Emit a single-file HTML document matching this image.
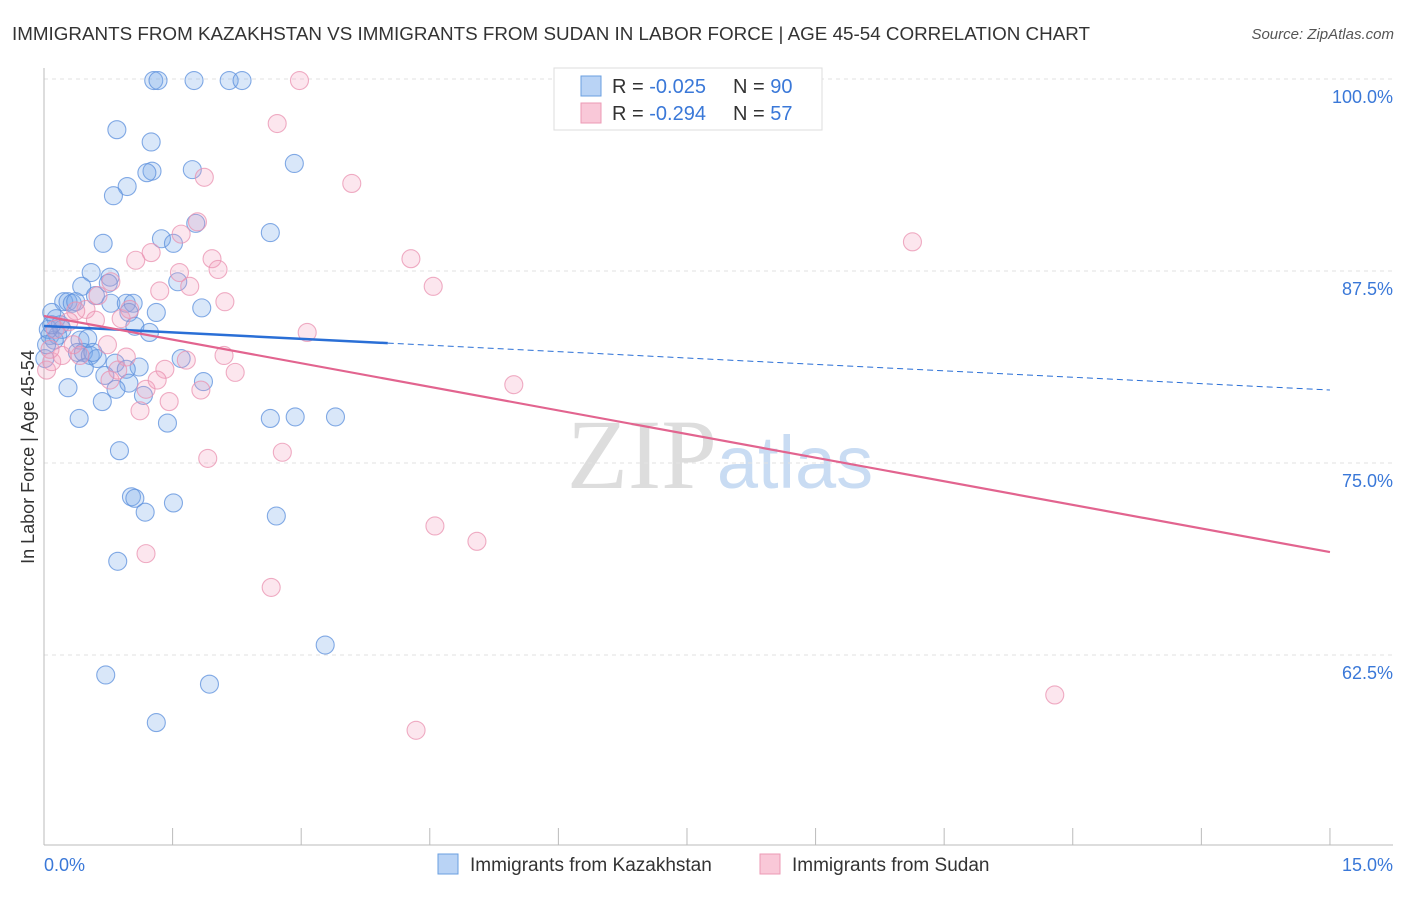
<!DOCTYPE html>
<html><head><meta charset="utf-8"><style>
body{margin:0;background:#fff;font-family:"Liberation Sans",sans-serif}
</style></head><body>
<svg id="chart" width="1406" height="892" xmlns="http://www.w3.org/2000/svg" font-family="Liberation Sans, sans-serif">
<text x="12" y="40" font-size="18" fill="#333" textLength="1078" lengthAdjust="spacingAndGlyphs">IMMIGRANTS FROM KAZAKHSTAN VS IMMIGRANTS FROM SUDAN IN LABOR FORCE | AGE 45-54 CORRELATION CHART</text>
<text x="1394" y="39" font-size="15" fill="#555" font-style="italic" text-anchor="end">Source: ZipAtlas.com</text>
<text x="720" y="488" font-size="100" text-anchor="middle" fill="#ddd" font-family="Liberation Serif, serif">ZIP<tspan fill="#c9dcf3" font-family="Liberation Sans, sans-serif" font-size="74">atlas</tspan></text>
<g id="grid"></g><g id="axes"></g><g id="pts"></g><g id="trend"></g>
<text transform="translate(34,457) rotate(-90)" font-size="18" fill="#333" text-anchor="middle">In Labor Force | Age 45-54</text>
<g>
<rect x="554" y="68" width="268" height="62" fill="#fff" stroke="#ddd"/>
<rect x="581" y="76" width="20" height="20" fill="#b9d3f5" stroke="#6a9fe0"/>
<rect x="581" y="103" width="20" height="20" fill="#f9c8d8" stroke="#ec9ab5"/>
<text x="612" y="93" font-size="20" fill="#333">R = <tspan fill="#3a78d8">-0.025</tspan></text>
<text x="733" y="93" font-size="20" fill="#333">N = <tspan fill="#3a78d8">90</tspan></text>
<text x="612" y="120" font-size="20" fill="#333">R = <tspan fill="#3a78d8">-0.294</tspan></text>
<text x="733" y="120" font-size="20" fill="#333">N = <tspan fill="#3a78d8">57</tspan></text>
</g>
<g>
<rect x="438" y="854" width="20" height="20" fill="#b9d3f5" stroke="#6a9fe0"/>
<text x="470" y="871" font-size="19" fill="#333">Immigrants from Kazakhstan</text>
<rect x="760" y="854" width="20" height="20" fill="#f9c8d8" stroke="#ec9ab5"/>
<text x="792" y="871" font-size="19" fill="#333">Immigrants from Sudan</text>
</g>
</svg>
<script>
const blueX=[1.28,1.33,1.75,2.16,2.31,0.85,1.25,2.92,1.26,1.20,1.73,0.97,0.81,2.64,1.37,0.69,1.51,1.77,0.55,0.77,1.56,0.44,0.75,0.60,0.23,0.28,0.33,0.37,0.78,0.96,1.04,1.31,1.84,0.09,0.14,0.19,0.99,1.06,1.23,0.07,0.16,0.42,0.51,0.12,0.21,0.39,0.46,0.54,0.62,0.57,0.83,1.11,0.96,0.71,0.47,0.99,1.60,1.86,0.28,0.84,0.68,1.16,0.41,1.44,2.64,2.93,3.40,0.88,1.02,1.06,1.18,1.51,2.71,0.86,3.28,0.72,1.93,1.31,0.01,0.05,0.09,0.03];
const blueY=[99.9,99.9,99.9,99.9,99.9,96.7,95.9,94.5,94.0,93.9,94.1,93.0,92.4,90.0,89.6,89.3,89.3,90.6,87.4,87.1,86.8,86.5,86.7,85.9,85.5,85.5,85.4,85.5,85.4,85.4,85.4,84.8,85.1,84.8,84.4,84.0,84.8,83.9,83.5,83.3,83.3,83.0,83.1,83.0,83.7,82.2,82.2,82.0,81.8,82.2,81.5,81.25,81.1,80.7,81.2,80.2,81.8,80.3,79.9,79.8,79.0,79.4,77.9,77.6,77.9,78.0,78.0,75.8,72.8,72.7,71.8,72.4,71.55,68.6,63.15,61.2,60.6,58.1,81.8,83.7,84.0,82.7];
const pinkX=[2.98,2.72,3.59,1.87,1.79,1.60,10.13,1.25,1.07,1.96,1.58,2.03,4.28,4.54,1.70,1.35,2.11,0.78,0.63,0.49,0.37,0.29,0.13,3.07,0.90,0.74,0.42,0.96,2.10,1.66,1.41,1.19,1.83,2.23,1.32,5.48,1.12,1.46,1.91,2.78,4.56,5.05,1.19,2.65,11.79,4.34,0.03,0.09,0.21,0.60,1.00,0.07,0.34,0.77,0.86];
const pinkY=[99.9,97.1,93.2,93.6,90.7,89.9,89.4,88.7,88.2,88.3,87.4,87.6,88.3,86.5,86.5,86.2,85.5,86.8,85.9,85.0,84.9,84.2,83.7,83.5,84.4,82.7,82.0,81.9,82.0,81.7,81.1,79.8,79.75,80.9,80.4,80.1,78.4,79.0,75.3,75.7,70.9,69.9,69.1,66.9,59.9,57.6,81.05,81.6,82.0,84.3,85.0,82.4,82.7,80.4,81.05];
const yTicks=[100,87.5,75,62.5];
const yTickLabels=["100.0%","87.5%","75.0%","62.5%"];
const blueTrend=[83.92,79.75];const blueSolidEnd=4.01;
const pinkTrend=[84.57,69.2];
const NS="http://www.w3.org/2000/svg";
const X=v=>44+v*85.73, Y=v=>79+(100-v)*15.36;
function mk(t,a,p){const e=document.createElementNS(NS,t);for(const k in a)e.setAttribute(k,a[k]);document.getElementById(p).appendChild(e);return e;}
yTicks.forEach((t,i)=>{
 const l=mk('line',{x1:44,x2:1393,y1:Y(t),y2:Y(t),stroke:'#e2e2e2','stroke-dasharray':'4,4'},'grid');
 
 
 const tx=mk('text',{x:1393,y:Y(t)+24,'font-size':18,fill:'#3a78d8','text-anchor':'end'},'grid');
 tx.textContent=yTickLabels[i];
 
 
});
let a=mk('line',{x1:44,x2:44,y1:68,y2:845,stroke:'#bbb'},'axes');


a=mk('line',{x1:44,x2:1393,y1:845,y2:845,stroke:'#bbb'},'axes');


for(let i=0;i<=10;i++){const t=mk('line',{x1:X(i*1.5),x2:X(i*1.5),y1:828,y2:845,stroke:'#bbb'},'axes');
 
 }
[[0,'0.0%','start',44],[15,'15.0%','end',1393]].forEach(d=>{const t=mk('text',{x:d[3],y:871,'font-size':18,fill:'#3a78d8','text-anchor':d[2]},'axes');t.textContent=d[1];
 
 });
function pts(xs,ys,fill,stroke,name){xs.forEach((x,i)=>{const c=mk('circle',{cx:X(x),cy:Y(ys[i]),r:9,fill:fill,stroke:stroke,'stroke-width':1.1,'stroke-opacity':0.75},'pts');
 
 });}
pts(blueX,blueY,'rgba(120,170,235,0.28)','#5b8fdc','kazakhstan-point');
pts(pinkX,pinkY,'rgba(242,160,188,0.26)','#ea92b0','sudan-point');
const by=x=>blueTrend[0]+(blueTrend[1]-blueTrend[0])*x/15;
let l=mk('line',{x1:X(0),y1:Y(by(0)),x2:X(blueSolidEnd),y2:Y(by(blueSolidEnd)),stroke:'#2a6fd6','stroke-width':2.5},'trend');


l=mk('line',{x1:X(blueSolidEnd),y1:Y(by(blueSolidEnd)),x2:X(15),y2:Y(by(15)),stroke:'#2a6fd6','stroke-width':1,'stroke-dasharray':'6,4'},'trend');


l=mk('line',{x1:X(0),y1:Y(pinkTrend[0]),x2:X(15),y2:Y(pinkTrend[1]),stroke:'#e2648f','stroke-width':2.2},'trend');


</script>
</body></html>
